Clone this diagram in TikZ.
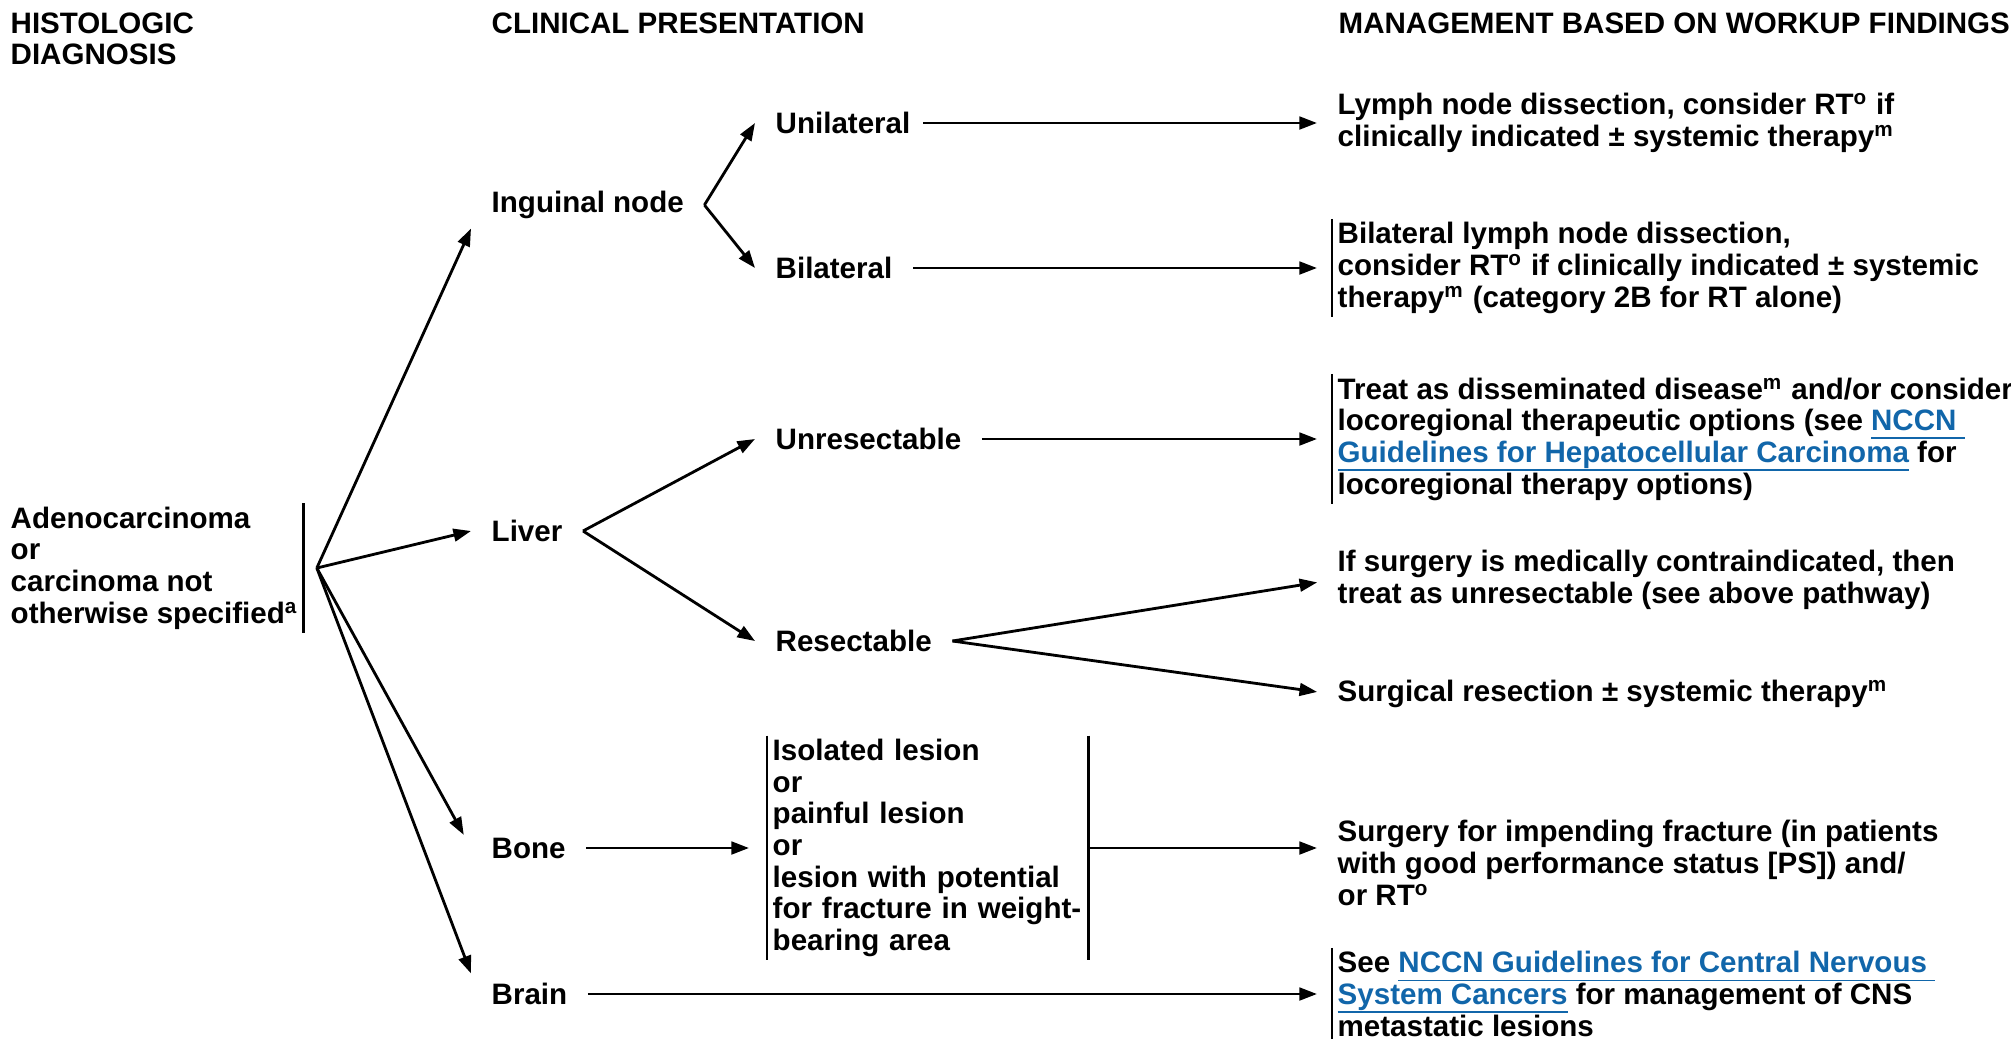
\documentclass[tikz,border=0pt]{standalone}
\usepackage{fontspec}
\setmainfont{Liberation Sans}
\usetikzlibrary{arrows.meta}

\definecolor{nccnblue}{RGB}{17,102,170}
% underlined link text
\newcommand{\lnk}[1]{{\color{nccnblue}\setbox0\hbox{#1}\rlap{\rule[-2.4pt]{\wd0}{0.5pt}}\box0}}

\tikzset{
  txt/.style={font=\bfseries\fontsize{8.4}{9}\selectfont, align=left, inner sep=0},
  hdr/.style={txt, anchor=north west},
  cp/.style={txt, anchor=west, inner xsep=0.2cm, inner ysep=0.09cm},
  mg/.style={txt, anchor=west, inner xsep=0.05cm, inner ysep=0.03cm},
  arr/.style={-{Triangle[length=5pt,width=3.6pt]}, line width=0.8pt},
  vbar/.style={line width=0.8pt},
}

\begin{document}
\begin{tikzpicture}[x=0.01cm, y=-0.01cm]
    \useasboundingbox (0,0) rectangle (2011,1039);

    % column heads
    \node[hdr] (hhist) at (10,12) {HISTOLOGIC\\DIAGNOSIS};
    \node[hdr] (hclin) at (491,12) {CLINICAL PRESENTATION};
    \node[hdr] (hmgmt) at (1338,12) {MANAGEMENT BASED ON WORKUP FINDINGS};

    \node[mg] (adeno) at (5,568) {Adenocarcinoma\\or\\carcinoma not\\otherwise specified\textsuperscript{a}};
    \coordinate (fork) at ([xshift=0.13cm]adeno.east);

    % clinical presentation
    \node[cp] (ing) at (471,205) {Inguinal node};
    \node[cp] (liver) at (471,531) {Liver};
    \node[cp] (bone) at (471,848) {Bone};
    \node[cp] (brain) at (471,994) {Brain};

    \node[cp] (uni) at (755,123) {Unilateral};
    \node[cp] (bil) at (755,268) {Bilateral};
    \node[cp] (unres) at (755,439) {Unresectable};
    \node[cp] (res) at (755,641) {Resectable};
    \node[mg, text width=3.1cm] (lesion) at (767,848) {Isolated lesion\\or\\painful lesion\\or\\lesion with potential\\for fracture in weight-\\bearing area};

    % management
    \node[mg] (lymph) at (1332,123) {Lymph node dissection, consider RT\textsuperscript{o} if\\clinically indicated ± systemic therapy\textsuperscript{m}};
    \node[mg] (bilmg) at (1332,268) {Bilateral lymph node dissection,\\consider RT\textsuperscript{o} if clinically indicated ± systemic\\therapy\textsuperscript{m} (category 2B for RT alone)};
    \node[mg] (dissem) at (1332,439) {Treat as disseminated disease\textsuperscript{m} and/or consider\\locoregional therapeutic options (see \lnk{NCCN }\\\lnk{Guidelines for Hepatocellular Carcinoma} for\\locoregional therapy options)};
    \node[mg] (contra) at (1332,580) {If surgery is medically contraindicated, then\\treat as unresectable (see above pathway)};
    \node[mg] (surg) at (1332,694) {Surgical resection ± systemic therapy\textsuperscript{m}};
    \node[mg] (fract) at (1332,863) {Surgery for impending fracture (in patients\\with good performance status [PS]) and/\\or RT\textsuperscript{o}};
    \node[mg] (cns) at (1332,994) {See \lnk{NCCN Guidelines for Central Nervous }\\\lnk{System Cancers} for management of CNS\\metastatic lesions};

    % bars
    \draw[vbar] (adeno.north east) -- (adeno.south east);
    \draw[vbar] (bilmg.north west) -- (bilmg.south west);
    \draw[vbar] (dissem.north west) -- (dissem.south west);
    \draw[vbar] (lesion.north west) -- (lesion.south west);
    \draw[vbar] (lesion.north east) -- (lesion.south east);
    \draw[vbar] (cns.north west) -- (cns.south west);

    \draw[arr] (fork) -- (ing.south west);
    \draw[arr] (fork) -- (liver.west);
    \draw[arr, shorten >=0.15cm] (fork) -- (bone.west);
    \draw[arr] (fork) -- (brain.north west);

    \draw[arr] (ing.east) -- (uni.west);
    \draw[arr] (ing.east) -- (bil.west);
    \draw[arr] (liver.east) -- (unres.west);
    \draw[arr] (liver.east) -- (res.west);
    \draw[arr, shorten >=0.18cm] (bone.east) -- (lesion.west);

    \draw[arr, shorten >=0.15cm] ([xshift=-0.08cm]uni.east) -- (lymph.west);
    \draw[arr, shorten >=0.15cm] (bil.east) -- (bilmg.west);
    \draw[arr, shorten >=0.15cm] (unres.east) -- (dissem.west);
    \draw[arr, shorten >=0.15cm] (res.east) -- (contra.west);
    \draw[arr, shorten >=0.15cm] (res.east) -- (surg.west);
    \draw[arr, shorten >=0.15cm] (lesion.east) -- (lesion.east -| fract.west);
    \draw[arr, shorten >=0.15cm] (brain.east) -- (cns.west);
\end{tikzpicture}
\end{document}
